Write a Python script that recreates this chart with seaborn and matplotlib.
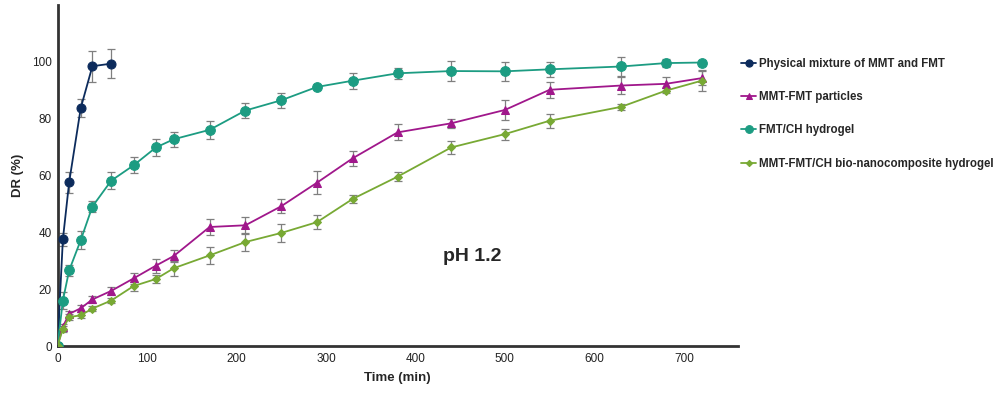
import matplotlib
matplotlib.use("Agg")
import matplotlib.pyplot as plt
import seaborn as sns
import pandas as pd

# data
t_phys = [0, 6, 13, 26, 39, 60]
dr_phys = [0, 37.5, 57.6, 83.8, 98.5, 99.4]
err_phys = [0, 2.4, 3.8, 3.1, 5.4, 5.2]

t_all = [0, 6, 13, 26, 39, 60, 85, 110, 130, 170, 210, 250, 290, 330, 380, 440, 500, 550, 630, 680, 720]

dr_particles = [0, 6.8, 11.3, 13.3, 16.4, 19.4, 23.8, 28.3, 31.7, 41.9, 42.5, 49.2, 57.5, 66.1, 75.2,
                78.4, 83.1, 90.2, 91.7, 92.3, 94.3]
err_particles = [0, 1.0, 1.0, 1.2, 1.2, 1.4, 2.0, 2.5, 2.2, 2.8, 3.0, 2.5, 4.0, 2.7, 2.8,
                 1.6, 3.4, 2.8, 2.9, 2.5, 2.5]

dr_hydrogel = [0, 16.0, 26.6, 37.3, 49.1, 58.2, 63.6, 69.9, 72.8, 76.1, 82.9, 86.5, 91.2, 93.4, 96.0,
               96.8, 96.7, 97.4, 98.4, 99.6, 99.8]
err_hydrogel = [0, 3.0, 1.8, 3.3, 1.8, 3.1, 2.8, 2.9, 2.6, 3.2, 2.5, 2.7, 0.6, 2.8, 1.9,
                3.5, 3.3, 2.6, 3.5, 1.5, 0.5]

dr_composite = [0, 6.0, 10.2, 10.8, 13.2, 16.0, 21.1, 23.6, 27.4, 31.9, 36.6, 39.8, 43.6, 51.8, 59.6,
                69.9, 74.6, 79.3, 84.2, 89.9, 93.4]
err_composite = [0, 1.0, 1.0, 1.0, 1.0, 0.8, 1.6, 1.4, 2.6, 3.1, 3.2, 3.2, 2.5, 1.5, 1.6,
                 2.4, 1.9, 2.5, 1.0, 1.0, 3.7]

labels = ["Physical mixture of MMT and FMT", "MMT-FMT particles", "FMT/CH hydrogel",
          "MMT-FMT/CH bio-nanocomposite hydrogel"]
colors = ["#0c2b5c", "#a0178b", "#1c9c82", "#78a934"]
markers = ["o", "^", "o", "D"]
msizes = [6.5, 6, 7, 4]

series = [
    (t_phys, dr_phys, err_phys),
    (t_all, dr_particles, err_particles),
    (t_all, dr_hydrogel, err_hydrogel),
    (t_all, dr_composite, err_composite),
]

sns.set_style("white")
plt.rcParams['font.family'] = ['Liberation Sans', 'DejaVu Sans']

fig = plt.figure(figsize=(10, 3.95), dpi=100)
ax = fig.add_axes([0.0575, 0.124, 0.68, 0.863])

for (t, dr, err), lab, col, mk, ms in zip(series, labels, colors, markers, msizes):
    ax.errorbar(t, dr, yerr=err, fmt="none", ecolor="#7f7f7f", elinewidth=0.9,
                capsize=3, capthick=0.9, zorder=2, label="_nolegend_")
    df = pd.DataFrame({"Time": t, "DR": dr})
    sns.lineplot(data=df, x="Time", y="DR", ax=ax, color=col, marker=mk,
                 markersize=ms, markeredgecolor=col, linewidth=1.3, sort=False,
                 label=lab, zorder=3)

ax.set_xlim(0, 760)
ax.set_ylim(0, 120)
ax.set_xticks(range(0, 701, 100))
ax.set_yticks(range(0, 101, 20))
ax.tick_params(axis="x", labelsize=8.5, length=3, width=0.8, color="#333333", direction="out",
               pad=2, labelcolor="#222222")
ax.tick_params(axis="y", labelsize=8.5, length=0, pad=4, labelcolor="#222222")
ax.set_xlabel("Time (min)", fontsize=9.5, fontweight="bold", labelpad=5)
ax.set_ylabel("DR (%)", fontsize=9.5, fontweight="bold", labelpad=6)

sns.despine(ax=ax)
for side in ["left", "bottom"]:
    ax.spines[side].set_linewidth(2)
    ax.spines[side].set_color("#333333")

ax.text(463, 31.4, "pH 1.2", fontsize=14, fontweight="bold", ha="center", va="center")

leg = ax.legend(loc="upper left", bbox_to_anchor=(0.731, 0.88), bbox_transform=fig.transFigure,
                frameon=False, handlelength=1.3, handletextpad=0.2, labelspacing=1.85,
                markerscale=0.8, prop={"weight": "bold", "size": 8.3})

fig.savefig("out.png", dpi=100)
